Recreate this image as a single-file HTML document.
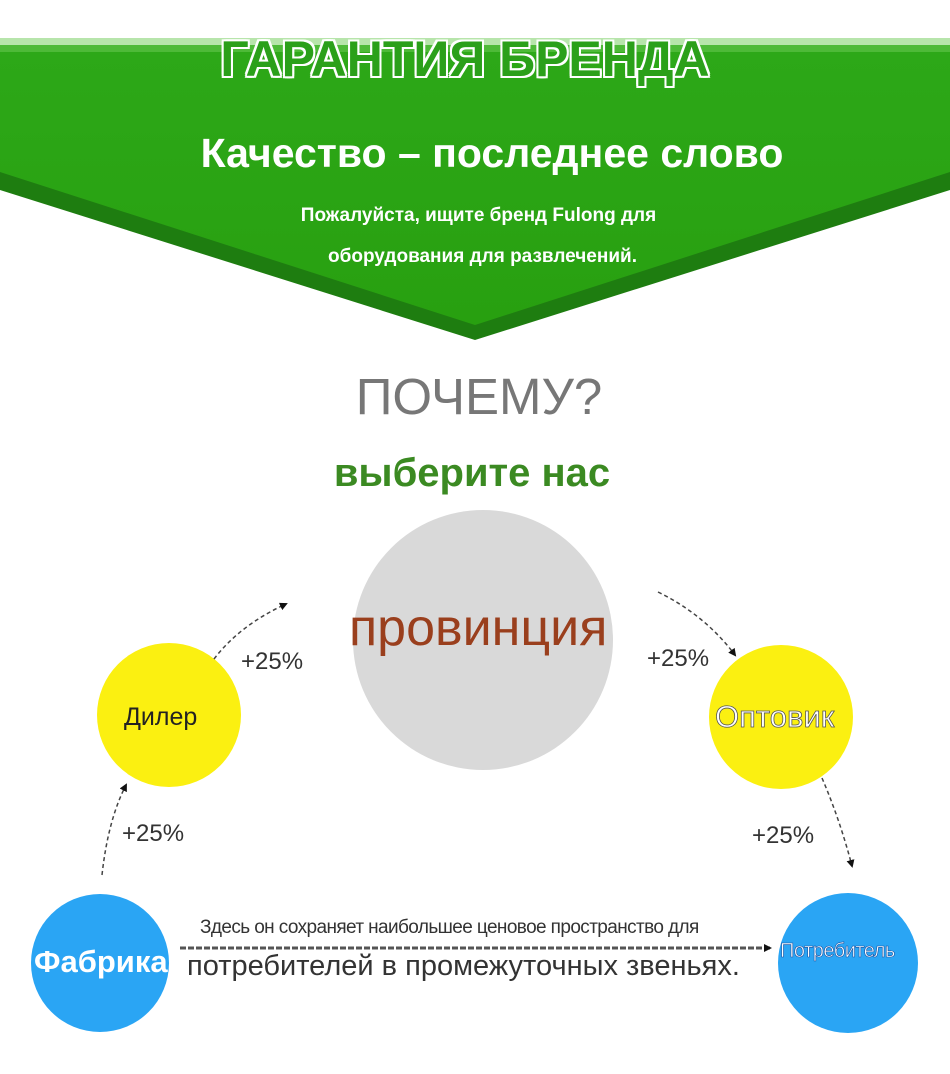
<!DOCTYPE html>
<html><head><meta charset="utf-8"><style>
body{margin:0;width:950px;height:1074px;background:#fff;overflow:hidden;position:relative;font-family:"Liberation Sans",sans-serif}
.t{position:absolute;white-space:nowrap}
</style></head><body>
<svg width="950" height="1074" style="position:absolute;left:0;top:0">
<defs>
<linearGradient id="g" x1="0" y1="0" x2="0" y2="1"><stop offset="0" stop-color="#2da818"/><stop offset="1" stop-color="#28a010"/></linearGradient>
<marker id="a" markerWidth="8" markerHeight="8" refX="6" refY="4" orient="auto" markerUnits="userSpaceOnUse" viewBox="0 0 8 8"><path d="M0,0 L8,4 L0,8Z" fill="#111"/></marker>
</defs>
<polygon points="0,45 950,45 950,190 475,340 0,190" fill="#1e7d10"/>
<polygon points="0,45 950,45 950,172 475,325 0,172" fill="url(#g)"/>
<rect x="0" y="38" width="950" height="14" fill="#6fcc58" opacity="0.5"/>
<circle cx="483" cy="640" r="130" fill="#d9d9d9"/>
<circle cx="169" cy="715" r="72" fill="#fbf011"/>
<circle cx="781" cy="717" r="72" fill="#fbf011"/>
<circle cx="100" cy="963" r="69" fill="#2aa5f4"/>
<circle cx="848" cy="963" r="70" fill="#2aa5f4"/>
<g fill="none" stroke="#444" stroke-width="1.5" stroke-dasharray="4,3">
<path d="M214,659 Q240,625 286,604" marker-end="url(#a)"/>
<path d="M102,875 Q108,820 126,785" marker-end="url(#a)"/>
<path d="M658,592 Q705,615 735,655" marker-end="url(#a)"/>
<path d="M822,778 Q840,820 852,866" marker-end="url(#a)"/>
</g>
<path d="M180,948 L770,948" stroke="#555" stroke-width="3" stroke-dasharray="6,2" marker-end="url(#a)"/>
</svg>
<div class="t" style="left:-10px;width:950px;top:30px;text-align:center;font-size:50px;font-weight:bold;color:#2ba01a;text-shadow:-2px 0 #fff,2px 0 #fff,0 -2px #fff,0 2px #fff,-2px -2px #fff,2px 2px #fff,-2px 2px #fff,2px -2px #fff">ГАРАНТИЯ БРЕНДА</div>
<div class="t" style="left:0;width:984px;top:130px;text-align:center;font-size:41px;color:#fff;font-weight:bold">Качество – последнее слово</div>
<div class="t" style="left:0;width:957px;top:205px;text-align:center;font-size:19px;color:#fff;font-weight:bold">Пожалуйста, ищите бренд Fulong для</div>
<div class="t" style="left:0;width:965px;top:246px;text-align:center;font-size:19px;color:#fff;font-weight:bold">оборудования для развлечений.</div>
<div class="t" style="left:0;width:958px;top:367px;text-align:center;font-size:51px;color:#777">ПОЧЕМУ?</div>
<div class="t" style="left:0;width:944px;top:451px;text-align:center;font-size:40px;color:#3b8a22;font-weight:bold">выберите нас</div>
<div class="t" style="left:349px;top:598px;font-size:52px;color:#9a3f1d">провинция</div>
<div class="t" style="left:241px;top:648px;font-size:24px;color:#333">+25%</div>
<div class="t" style="left:647px;top:645px;font-size:24px;color:#333">+25%</div>
<div class="t" style="left:122px;top:820px;font-size:24px;color:#333">+25%</div>
<div class="t" style="left:752px;top:822px;font-size:24px;color:#333">+25%</div>
<div class="t" style="left:124px;top:703px;font-size:25px;color:#222">Дилер</div>
<div class="t" style="left:715px;top:699px;font-size:31px;color:#fff;-webkit-text-stroke:0.8px #555">Оптовик</div>
<div class="t" style="left:34px;top:944px;font-size:31px;color:#fff;font-weight:bold">Фабрика</div>
<div class="t" style="left:780px;top:940px;font-size:20px;color:#fff;-webkit-text-stroke:0.6px #1a50a0;letter-spacing:-0.5px">Потребитель</div>
<div class="t" style="left:200px;top:917px;font-size:19px;color:#333;letter-spacing:-0.6px">Здесь он сохраняет наибольшее ценовое пространство для</div>
<div class="t" style="left:187px;top:950px;font-size:29px;color:#333;text-shadow:0 0 4px #fff">потребителей в промежуточных звеньях.</div>
</body></html>
